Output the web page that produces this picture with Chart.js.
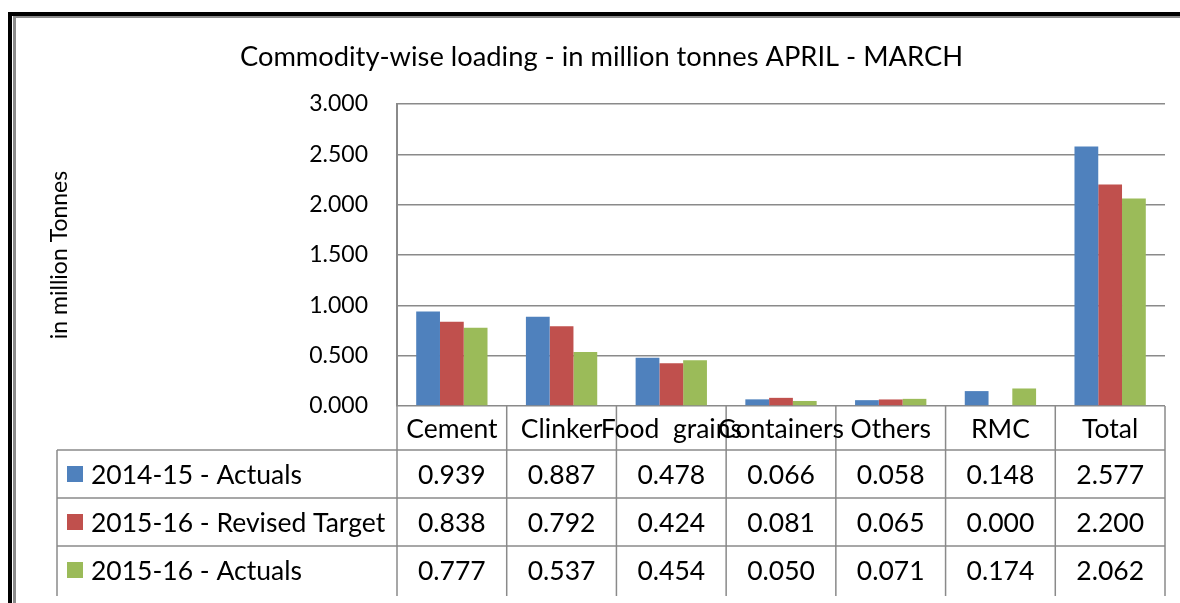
<!DOCTYPE html>
<html>
<head>
<meta charset="utf-8">
<script src="https://cdn.jsdelivr.net/npm/chart.js@4"></script>
<style>
html,body{margin:0;padding:0;background:#fff;}
#wrap{width:1180px;height:603px;position:relative;}
</style>
</head>
<body>
<div id="wrap"><canvas id="loadChart"></canvas></div>
<script>
// data
const categories = ["Cement", "Clinker", "Food  grains", "Containers", "Others", "RMC", "Total"];
const seriesNames = ["2014-15 - Actuals", "2015-16 - Revised Target", "2015-16 - Actuals"];
const actuals1415 = [0.939, 0.887, 0.478, 0.066, 0.058, 0.148, 2.577];
const target1516 = [0.838, 0.792, 0.424, 0.081, 0.065, 0.000, 2.200];
const actuals1516 = [0.777, 0.537, 0.454, 0.050, 0.071, 0.174, 2.062];
const seriesColors = ["#4F81BD", "#C0504D", "#9BBB59"];
const yTicks = [0, 0.5, 1, 1.5, 2, 2.5, 3];

const FONT = "Lato, 'Noto Sans', sans-serif";
const GRID = "#8a8a8a";

const allSeries = [actuals1415, target1516, actuals1516];

// frame round the chart
const framePlugin = {
  id: "frame",
  beforeDraw(chart){
    const c = chart.ctx;
    c.save();
    c.fillStyle = "#fff";
    c.fillRect(0, 0, chart.width, chart.height);
    c.fillStyle = "#000";
    c.fillRect(8, 12, 4, chart.height);
    c.fillRect(8, 12, chart.width, 4);
    c.fillStyle = "#8c8c8c";
    c.fillRect(13, 16, 3, chart.height);
    c.fillRect(13, 16, chart.width, 2);
    c.restore();
  }
};

// data table under the plot, columns taken from the x scale
const tablePlugin = {
  id: "dataTable",
  afterDraw(chart){
    const c = chart.ctx;
    const xs = chart.scales.x;
    const area = chart.chartArea;
    const n = categories.length;
    const colW = (area.right - area.left) / n;
    const top = area.bottom;
    const headBottom = top + 44;
    const rowH = 48;
    const tableBottom = 596;
    const tableLeft = 57;

    c.save();
    c.strokeStyle = GRID;
    c.lineWidth = 1.5;
    c.beginPath();
    // horizontal lines
    for(let r = 0; r < 3; r++){
      const y = headBottom + r * rowH;
      c.moveTo(tableLeft, y);
      c.lineTo(area.right, y);
    }
    // vertical lines
    c.moveTo(tableLeft, headBottom);
    c.lineTo(tableLeft, tableBottom);
    for(let i = 0; i <= n; i++){
      const x = area.left + i * colW;
      c.moveTo(x, top);
      c.lineTo(x, tableBottom);
    }
    c.stroke();

    c.fillStyle = "#000";
    c.font = "26.5px " + FONT;
    c.textBaseline = "middle";
    c.textAlign = "center";
    categories.forEach((cat, i)=>{
      c.fillText(cat, xs.getPixelForValue(i), top + 23);
    });

    allSeries.forEach((vals, r)=>{
      const yc = headBottom + r * rowH + 25;
      c.textAlign = "center";
      vals.forEach((v, i)=>{
        c.fillText(v.toFixed(3), xs.getPixelForValue(i), yc);
      });
      c.fillStyle = seriesColors[r];
      c.fillRect(67, yc - 9, 16, 16);
      c.fillStyle = "#000";
      c.textAlign = "left";
      c.fillText(seriesNames[r], 91, yc);
    });
    c.restore();
  }
};

new Chart(document.getElementById("loadChart"), {
  type: "bar",
  data: {
    labels: categories,
    datasets: seriesNames.map((name, i)=>({
      label: name,
      data: allSeries[i],
      backgroundColor: seriesColors[i],
      borderWidth: 0,
      categoryPercentage: 0.65,
      barPercentage: 1.0
    }))
  },
  options: {
    responsive: true,
    maintainAspectRatio: false,
    animation: false,
    devicePixelRatio: 1,
    layout: { padding: { left: 38, right: 15, top: 0, bottom: 197 } },
    plugins: {
      legend: { display: false },
      tooltip: { enabled: false },
      title: {
        display: true,
        text: "Commodity-wise loading - in million tonnes APRIL - MARCH",
        color: "#000",
        font: { family: FONT, size: 27.3, weight: "normal", lineHeight: 1.2 },
        padding: { top: 41, bottom: 30.2 }
      }
    },
    scales: {
      x: {
        ticks: { display: false },
        grid: { display: false },
        border: { display: false },
        afterFit: s => { s.height = 0; }
      },
      y: {
        min: 0,
        max: 3,
        afterBuildTicks: s => { s.ticks = yTicks.map(v => ({ value: v })); },
        afterFit: s => { s.width = 359; },
        ticks: {
          color: "#000",
          padding: 29,
          font: { family: FONT, size: 23 },
          callback: v => Number(v).toFixed(3)
        },
        grid: { color: GRID, lineWidth: 1.5, drawTicks: false },
        border: { display: true, color: GRID, width: 2 },
        title: {
          display: true,
          text: "in million Tonnes",
          color: "#000",
          font: { family: FONT, size: 23, lineHeight: 1.2 },
          padding: { top: 8, bottom: 0 }
        }
      }
    }
  },
  plugins: [framePlugin, tablePlugin]
});
</script>
</body>
</html>
